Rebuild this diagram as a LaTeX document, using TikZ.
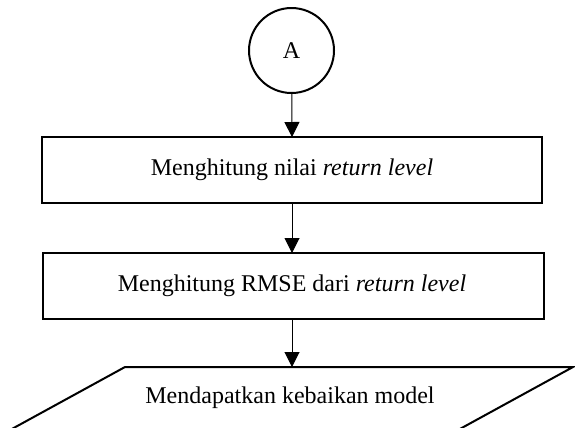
\documentclass[tikz,border=0pt]{standalone}
\usepackage{fontspec}
\setmainfont{Liberation Serif}
\usetikzlibrary{arrows.meta}
\begin{document}
\begin{tikzpicture}[x=1bp,y=-1bp,
  font=\fontsize{24bp}{28bp}\selectfont,
  conn/.style={line width=1bp, -{Triangle[length=15bp,width=15bp]}},
  lbl/.style={inner sep=0pt}]
\useasboundingbox (0,0) rectangle (575,427);
% start connector
\node[draw, circle, line width=2bp, minimum size=85bp, inner sep=0pt] (A) at (291.5,50.5) {A};
% process boxes
\draw[line width=2bp] (42,137) rectangle (542,203);
\node[lbl] (b1) at (292,170) {Menghitung nilai \textit{return level}};
\coordinate (b1t) at (292,137);
\coordinate (b1b) at (292,203);
\draw[line width=2bp] (43,253) rectangle (544,319);
\node[lbl] (b2) at (292,286) {Menghitung RMSE dari \textit{return level}};
\coordinate (b2t) at (292,253);
\coordinate (b2b) at (292,319);
% output parallelogram
\draw[line width=2bp] (125,367) -- (573,367) -- (458,430) -- (10,430) -- cycle;
\node[lbl] (out) at (290,398) {Mendapatkan kebaikan model};
\coordinate (pt) at (292,367);
% connectors
\draw[conn] (A) -- (b1t);
\draw[conn] (b1b) -- (b2t);
\draw[conn] (b2b) -- (pt);
\end{tikzpicture}
\end{document}
